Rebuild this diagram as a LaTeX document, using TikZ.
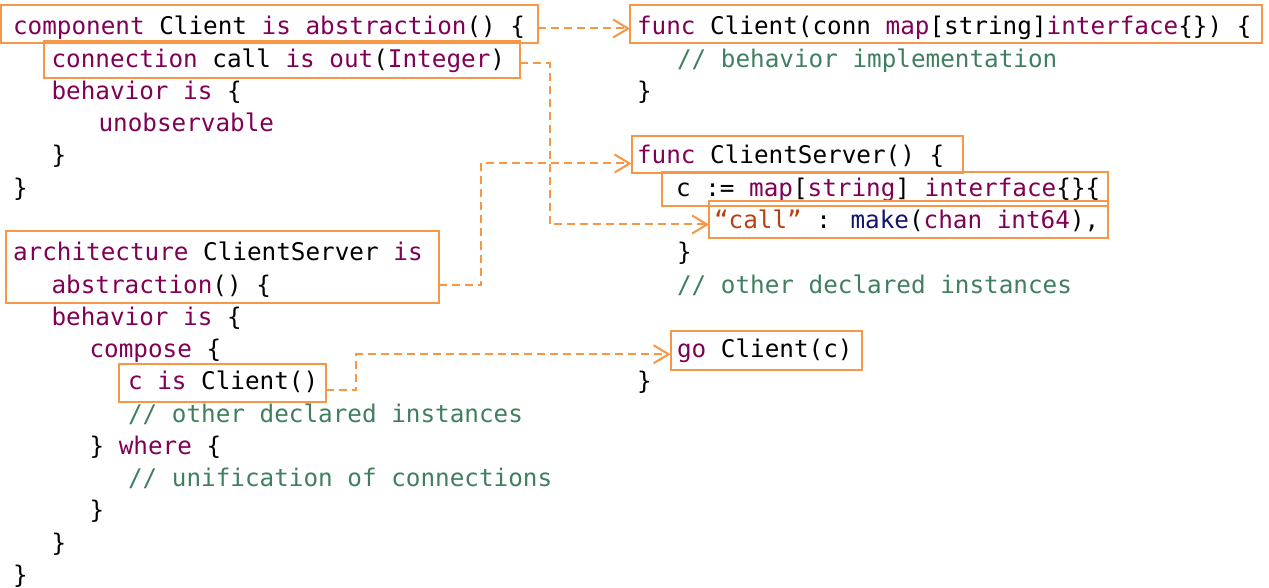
\documentclass[tikz,border=0pt]{standalone}
\usepackage{fontspec}
\usetikzlibrary{arrows.meta,fit}
\newfontfamily\codefont{DejaVu Sans Mono}
\definecolor{kwc}{HTML}{7F0055}
\definecolor{cmc}{HTML}{3F7F5F}
\definecolor{stc}{HTML}{B8400E}
\definecolor{fnc}{HTML}{14146E}
\definecolor{boxc}{HTML}{F79646}
\newcommand\kwd[1]{\textcolor{kwc}{#1}}
\newcommand\cmt[1]{\textcolor{cmc}{#1}}
\newcommand\strg[1]{\textcolor{stc}{#1}}
\newcommand\fnc[1]{\textcolor{fnc}{#1}}
\begin{document}
\begin{tikzpicture}[x=1pt,y=-1pt,
  ln/.style={anchor=base west, inner sep=0pt, outer sep=0pt, text=black,
    font={\codefont\fontsize{24.3pt}{30pt}\selectfont}},
  bx/.style={draw=boxc, line width=2pt, inner sep=0pt, outer sep=0pt, rectangle},
  arr/.style={draw=boxc, line width=2pt, dash pattern=on 8pt off 5pt,
    -{Straight Barb[length=15pt,width=18pt,line width=2pt]}}]
\useasboundingbox (0,0) rectangle (1269,588);
% left column
\node[ln] (l1) at (13,35) {\kwd{component} Client \kwd{is} \kwd{abstraction}() \{};
\node[ln] (l2) at (51.5,67.25) {\kwd{connection} call \kwd{is} \kwd{out}(\kwd{Integer})};
\node[ln] (l3) at (51.5,99.5) {\kwd{behavior} \kwd{is} \{};
\node[ln] (l4) at (98.5,131.75) {\kwd{unobservable}};
\node[ln] (l5) at (51.5,164) {\}};
\node[ln] (l6) at (13,196.25) {\}};
\node[ln] (l8) at (13,260.75) {\kwd{architecture} ClientServer \kwd{is}};
\node[ln] (l9) at (51.5,293) {\kwd{abstraction}() \{};
\node[ln] (l10) at (51.5,325.25) {\kwd{behavior} \kwd{is} \{};
\node[ln] (l11) at (89.5,357.5) {\kwd{compose} \{};
\node[ln] (l12) at (128,389.75) {\kwd{c} \kwd{is} Client()};
\node[ln] (l13) at (128,422) {\cmt{// other declared instances}};
\node[ln] (l14) at (89.5,454.25) {\} \kwd{where} \{};
\node[ln] (l15) at (128,486.5) {\cmt{// unification of connections}};
\node[ln] (l16) at (89.5,518.75) {\}};
\node[ln] (l17) at (51.5,551) {\}};
\node[ln] (l18) at (13,583.25) {\}};
% right column
\node[ln] (r1) at (637,35) {\kwd{func} Client(conn \kwd{map}[string]\kwd{interface}\{\}) \{};
\node[ln] (r2) at (677,67.25) {\cmt{// behavior implementation}};
\node[ln] (r3) at (637,99.5) {\}};
\node[ln] (r5) at (637,164) {\kwd{func} ClientServer() \{};
\node[ln] (r6) at (676,196.25) {c := \kwd{map}[\kwd{string}] \kwd{interface}\{\}\{};
\node[ln] (r7) at (714,228.5) {\strg{“call”} : \fnc{make}(\kwd{chan} \kwd{int64}),};
\node[ln] (r8) at (677,260.75) {\}};
\node[ln] (r9) at (677,293) {\cmt{// other declared instances}};
\node[ln] (r11) at (677,357.5) {\kwd{go} Client(c)};
\node[ln] (r12) at (637,389.75) {\}};
% boxes
\node[bx, fit={(0.5,5.5) (538,43.5)}] (bComp) {};
\node[bx, fit={(44,41) (520,78)}] (bConn) {};
\node[bx, fit={(630,5.5) (1262,43.5)}] (bFunc) {};
\node[bx, fit={(631.5,136) (963,173)}] (bCS) {};
\node[bx, fit={(661.5,172.5) (1108,206)}] (bMap) {};
\node[bx, fit={(709,201) (1107.5,238)}] (bCall) {};
\node[bx, fit={(6,231.5) (438.5,302.5)}] (bArch) {};
\node[bx, fit={(118.5,363.5) (325.5,401.5)}] (bInst) {};
\node[bx, fit={(670.5,331) (862,369.5)}] (bGo) {};
% connectors
\draw[arr] ([yshift=-4pt]bComp.east) -- ([yshift=-4pt]bFunc.west);
\draw[arr] ([yshift=-4pt]bConn.east) -- ++(29.5,0) |- ([yshift=-5pt]bCall.west);
\draw[arr] ([yshift=-18pt]bArch.east) -- ++(42.5,0) |- ([yshift=-9pt]bCS.west);
\draw[arr] ([yshift=-7.5pt]bInst.east) -- ++(30.5,0) |- ([yshift=-4pt]bGo.west);
\end{tikzpicture}
\end{document}
